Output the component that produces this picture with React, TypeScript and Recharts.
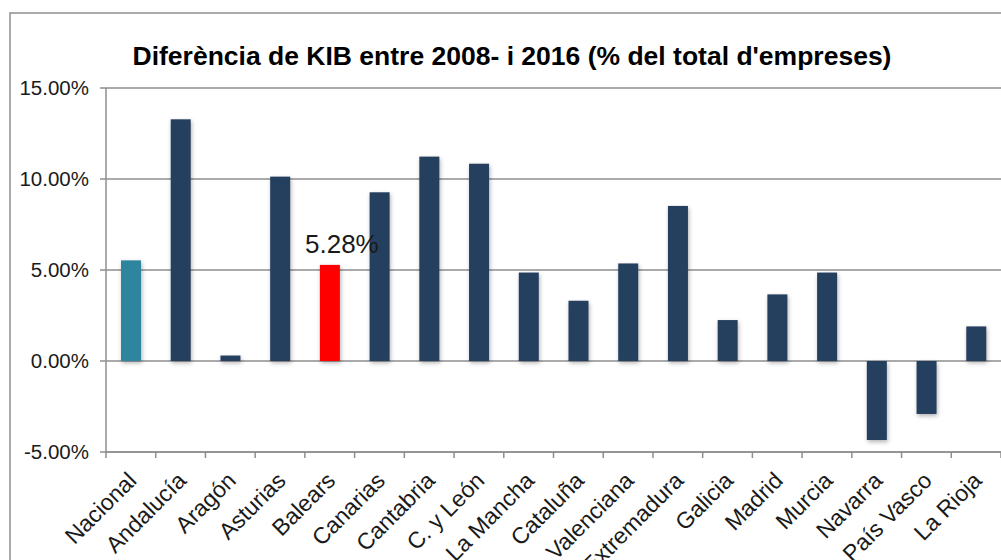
import React from 'react';
import { BarChart, Bar, XAxis, YAxis, CartesianGrid, Cell } from 'recharts';

const categories = [
  'Nacional', 'Andalucía', 'Aragón', 'Asturias', 'Balears', 'Canarias', 'Cantabria',
  'C. y León', 'La Mancha', 'Cataluña', 'Valenciana', 'Extremadura', 'Galicia',
  'Madrid', 'Murcia', 'Navarra', 'País Vasco', 'La Rioja',
];
const values = [
  5.53, 13.28, 0.3, 10.13, 5.28, 9.27, 11.23, 10.84, 4.86, 3.31, 5.36, 8.52, 2.25,
  3.66, 4.86, -4.34, -2.91, 1.9,
];
const NAVY = '#253f5f';
const barColors = [
  '#2e869e', NAVY, NAVY, NAVY, '#ff0000', NAVY, NAVY, NAVY, NAVY, NAVY, NAVY, NAVY,
  NAVY, NAVY, NAVY, NAVY, NAVY, NAVY,
];
const yTicks = [-5, 0, 5, 10, 15];
const labelledCategories = ['Balears'];
const title = "Diferència de KIB entre 2008- i 2016 (% del total d'empreses)";

const data = categories.map((name, i) => ({ name, value: values[i] }));

const FONT = '"Liberation Sans", Arial, Helvetica, sans-serif';
const GRID = '#8e8e8e';

const XTick = (props: any) => {
  const { x, y, payload, index } = props;
  const off = payload && payload.offset ? payload.offset : 0;
  const isLast = index === categories.length - 1;
  const ax = x + 7;
  const ay = y + 30;
  return (
    <g>
      <line x1={x - off} y1={y} x2={x - off} y2={y + 6} stroke={GRID} strokeWidth={1.5} />
      {isLast && <line x1={x + off} y1={y} x2={x + off} y2={y + 6} stroke={GRID} strokeWidth={1.5} />}
      <text
        x={ax}
        y={ay}
        textAnchor="end"
        transform={`rotate(-45 ${ax} ${ay})`}
        fontSize={23}
        fontFamily={FONT}
        fill="#1a1a1a"
      >
        {payload.value}
      </text>
    </g>
  );
};

const BarShape = (p: any) => {
  const y = Math.min(p.y, p.y + p.height);
  const h = Math.abs(p.height);
  return (
    <rect
      x={p.x}
      y={y}
      width={p.width}
      height={h}
      fill={p.fill}
      style={{ filter: 'drop-shadow(1px 2px 2px rgba(0,0,0,0.3))' }}
    />
  );
};

const ValueLabel = (p: any) => {
  const { x, y, width, value, index } = p;
  if (!labelledCategories.includes(categories[index])) return null;
  return (
    <text
      x={x + width / 2 + 12}
      y={y - 12}
      textAnchor="middle"
      fontSize={26}
      fontFamily={FONT}
      fill="#1a1a1a"
    >
      {`${Number(value).toFixed(2)}%`}
    </text>
  );
};

export default function App() {
  return (
    <div
      style={{
        position: 'fixed',
        left: 0,
        top: 0,
        width: 1001,
        height: 560,
        overflow: 'hidden',
        background: '#fff',
      }}
    >
      <div style={{ position: 'absolute', left: 0, top: 0 }}>
        <BarChart
          width={1001}
          height={560}
          data={data}
          margin={{ top: 88, right: 0, bottom: 0, left: 0 }}
          barSize={20}
        >
          <CartesianGrid vertical={false} stroke={GRID} strokeWidth={1.5} />
          <XAxis
            dataKey="name"
            interval={0}
            height={108}
            tickSize={0}
            tickMargin={0}
            tickLine={false}
            axisLine={{ stroke: GRID, strokeWidth: 1.5 }}
            tick={<XTick />}
          />
          <YAxis
            width={106}
            domain={[-5, 15]}
            ticks={yTicks}
            interval={0}
            tickSize={6}
            tickMargin={11}
            axisLine={{ stroke: GRID, strokeWidth: 1.5 }}
            tickLine={{ stroke: GRID, strokeWidth: 1.5 }}
            tick={{ fontSize: 20.5, fontFamily: FONT, fill: '#1a1a1a' }}
            tickFormatter={(v: number) => `${v.toFixed(2)}%`}
          />
          <Bar dataKey="value" isAnimationActive={false} shape={<BarShape />} label={<ValueLabel />}>
            {data.map((d, i) => (
              <Cell key={d.name} fill={barColors[i]} />
            ))}
          </Bar>
        </BarChart>
      </div>
      <svg
        width={1001}
        height={560}
        style={{ position: 'absolute', left: 0, top: 0, pointerEvents: 'none' }}
      >
        <rect x={10} y={13} width={1100} height={700} fill="none" stroke={GRID} strokeWidth={1.5} />
        <text
          x={512}
          y={65}
          textAnchor="middle"
          fontSize={26.5}
          fontWeight="bold"
          fontFamily={FONT}
          fill="#000"
        >
          {title}
        </text>
      </svg>
    </div>
  );
}
